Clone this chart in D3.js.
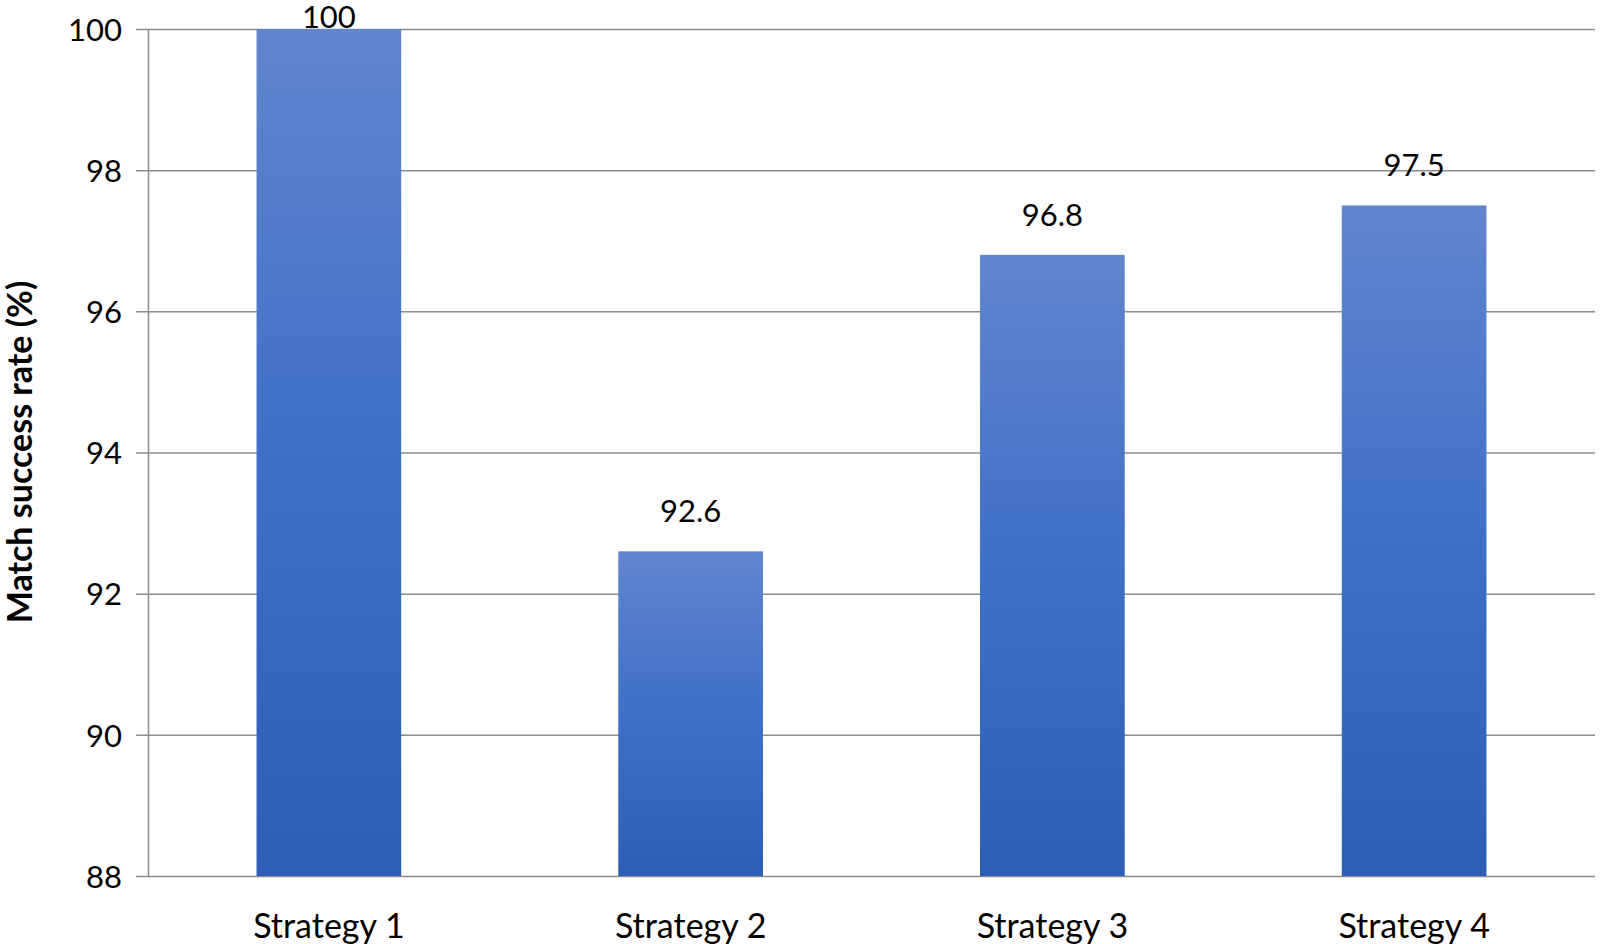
<!DOCTYPE html>
<html>
<head>
<meta charset="utf-8">
<script src="https://cdn.jsdelivr.net/npm/d3@7"></script>
<style>
  body { margin: 0; background: #fff; }
  text { font-family: Lato, "Open Sans", sans-serif; fill: #000; }
</style>
</head>
<body>
<div id="chart"></div>
<script>
// data
var strategies = ["Strategy 1", "Strategy 2", "Strategy 3", "Strategy 4"];
var successRate = [100, 92.6, 96.8, 97.5];
var yTicks = [88, 90, 92, 94, 96, 98, 100];

var w = 1600, h = 944;
var plotLeft = 148, plotRight = 1595, plotTop = 29, plotBottom = 876;

var svg = d3.select("#chart").append("svg")
    .attr("width", w)
    .attr("height", h);

// gradient for the bars (lighter at top, darker at bottom)
var grad = svg.append("defs").append("linearGradient")
    .attr("id", "barGrad")
    .attr("x1", 0).attr("y1", 0).attr("x2", 0).attr("y2", 1);
grad.append("stop").attr("offset", "0%").attr("stop-color", "#6285cd");
grad.append("stop").attr("offset", "50%").attr("stop-color", "#3f6fc8");
grad.append("stop").attr("offset", "100%").attr("stop-color", "#2d5db7");

var xScale = d3.scaleBand()
    .domain(strategies)
    .range([plotLeft, plotRight])
    .paddingInner(0.6)
    .paddingOuter(0.3);

var yScale = d3.scaleLinear()
    .domain([88, 100])
    .range([plotBottom, plotTop]);

// gridlines with outside tick marks
var yAxis = d3.axisLeft(yScale)
    .tickValues(yTicks)
    .tickSizeInner(-(plotRight - plotLeft))
    .tickSizeOuter(0);

var gy = svg.append("g")
    .attr("transform", "translate(" + plotLeft + ",0)")
    .call(yAxis);
gy.select(".domain").attr("stroke", "#8c8c8c").attr("stroke-width", 1.5);
gy.selectAll(".tick line")
    .attr("stroke", "#8c8c8c")
    .attr("stroke-width", 1.5)
    .attr("x1", -12);
gy.selectAll(".tick text")
    .attr("x", -26)
    .attr("dy", "0.36em")
    .style("font-size", "31px");

// bars
svg.selectAll(".bar")
    .data(successRate)
    .enter().append("rect")
    .attr("class", "bar")
    .attr("x", function(d, i) { return xScale(strategies[i]); })
    .attr("y", function(d) { return yScale(d); })
    .attr("width", xScale.bandwidth())
    .attr("height", function(d) { return plotBottom - yScale(d); })
    .attr("fill", "url(#barGrad)");

// value labels, kept inside the chart area
svg.selectAll(".label")
    .data(successRate)
    .enter().append("text")
    .attr("class", "label")
    .attr("x", function(d, i) { return xScale(strategies[i]) + xScale.bandwidth() / 2; })
    .attr("y", function(d) { return Math.max(yScale(d) - 29, 28); })
    .attr("text-anchor", "middle")
    .style("font-size", "31px")
    .text(function(d) { return d; });

// x axis labels
var xAxis = d3.axisBottom(xScale).tickSize(0).tickPadding(38);
var gx = svg.append("g")
    .attr("transform", "translate(0," + plotBottom + ")")
    .call(xAxis);
gx.select(".domain").remove();
gx.selectAll(".tick text").style("font-size", "34px");

// y axis title
svg.append("text")
    .attr("transform", "translate(32,452) rotate(-90)")
    .attr("text-anchor", "middle")
    .style("font-size", "34px")
    .style("font-weight", "bold")
    .text("Match success rate (%)");
</script>
</body>
</html>
